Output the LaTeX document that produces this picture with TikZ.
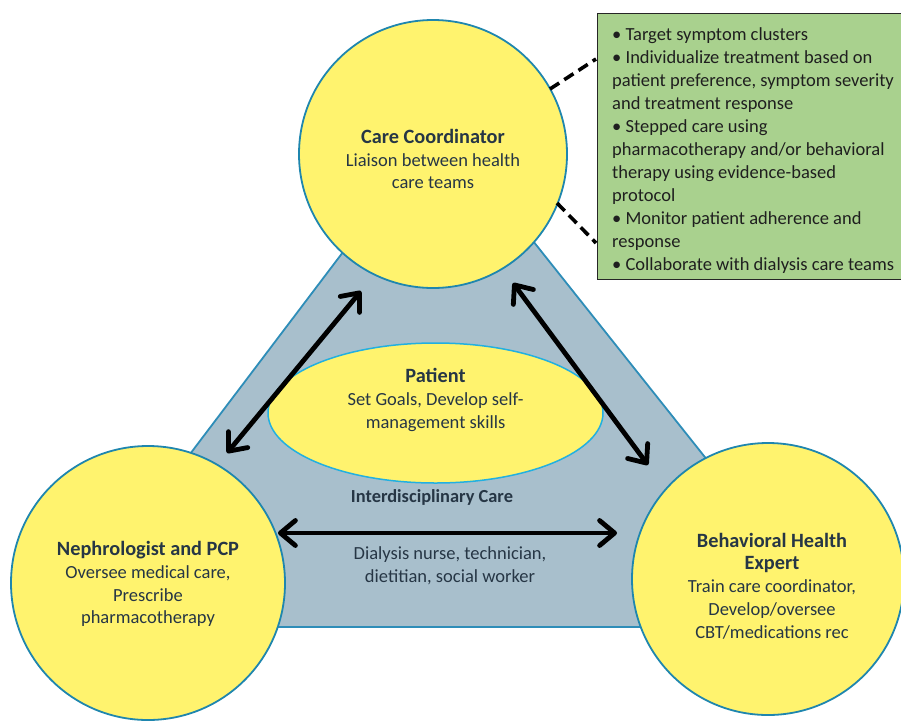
\documentclass[tikz,border=0pt]{standalone}
\usepackage{fontspec}
\setmainfont{Carlito}
\usetikzlibrary{arrows.meta,shapes.geometric}
\definecolor{circfill}{HTML}{FFF36E}
\definecolor{circline}{HTML}{1F86AE}
\definecolor{trifill}{HTML}{A8BFCC}
\definecolor{triline}{HTML}{2E8DB8}
\definecolor{ellline}{HTML}{22B0E0}
\definecolor{boxfill}{HTML}{A9D18E}
\definecolor{txt}{HTML}{263645}
\newcommand\rtitle[1]{{\bfseries\fontsize{20.3}{24}\selectfont #1}}
\tikzset{
  role/.style={circle, draw=circline, line width=1.8pt, fill=circfill, inner sep=0pt},
  lbl/.style={align=center, text=txt, font=\fontsize{18.5}{22.8}\selectfont, inner sep=0pt},
  bigarrow/.style={line width=4.8pt, line cap=round, {Straight Barb[length=15pt,width=25pt,round]}-{Straight Barb[length=15pt,width=25pt,round]}},
  dashlink/.style={line width=3.6pt, dash pattern=on 11pt off 6pt},
}
\begin{document}
\begin{tikzpicture}[x=1pt,y=-1pt]
\useasboundingbox (0,0) rectangle (901,723);
% triangle
\draw[fill=trifill, draw=triline, line width=1.8pt] (59,627) -- (840,627) -- (440,124) -- cycle;
% patient ellipse
\node[ellipse, draw=ellline, line width=1.5pt, fill=circfill, minimum width=335pt, minimum height=140pt, inner sep=0pt] (pat) at (435.5,413) {};
\node[lbl] (pattxt) at (435.5,400) {\rtitle{Patient}\\Set Goals, Develop self-\\management skills};
% interdisciplinary
\node[lbl, font=\bfseries\fontsize{18.4}{22}\selectfont] (idc) at (432,497) {Interdisciplinary Care};
\node[lbl] (idctxt) at (450,566) {Dialysis nurse, technician,\\dietitian, social worker};
% arrow endpoints
\coordinate (a1s) at (227,453);
\coordinate (a1e) at (361,291);
\coordinate (a2s) at (513,283);
\coordinate (a2e) at (648,465);
\coordinate (a3s) at (278,533);
\coordinate (a3e) at (617,533);
\draw[bigarrow] (a1s) -- (a1e);
\draw[bigarrow] (a2s) -- (a2e);
\draw[bigarrow] (a3s) -- (a3e);
% circles
\node[role, minimum size=268pt] (cc) at (433,154) {};
\node[lbl] (cctxt) at (433,159) {\rtitle{Care Coordinator}\\Liaison between health\\care teams};
\node[role, minimum size=274pt] (np) at (148,583) {};
\node[lbl] (nptxt) at (148,584) {\rtitle{Nephrologist and PCP}\\Oversee medical care,\\Prescribe\\pharmacotherapy};
\node[role, minimum size=272pt] (bh) at (768,579) {};
\node[lbl] (bhtxt) at (772,586) {\rtitle{Behavioral Health}\\\rtitle{Expert}\\Train care coordinator,\\Develop/oversee\\CBT/medications rec};
% green box
\node[draw=black!85, line width=1.2pt, fill=boxfill, minimum width=310pt, minimum height=266pt, anchor=north west, inner sep=0pt] (box) at (597,13) {};
\node[anchor=north west, align=left, text=black!88, font=\fontsize{18.5}{23}\selectfont, inner sep=0pt] (boxtxt) at (612,27)
{\textbullet\ Target symptom clusters\\
\textbullet\ Individualize treatment based on\\
patient preference, symptom severity\\
and treatment response\\
\textbullet\ Stepped care using\\
pharmacotherapy and/or behavioral\\
therapy using evidence-based\\
protocol\\
\textbullet\ Monitor patient adherence and\\
response\\
\textbullet\ Collaborate with dialysis care teams};
% dashed links
\coordinate (d1s) at (550,89);
\coordinate (d1e) at (596,59);
\coordinate (d2s) at (557,203);
\coordinate (d2e) at (596,243);
\draw[dashlink] (d1s) -- (d1e);
\draw[dashlink] (d2s) -- (d2e);
\end{tikzpicture}
\end{document}
